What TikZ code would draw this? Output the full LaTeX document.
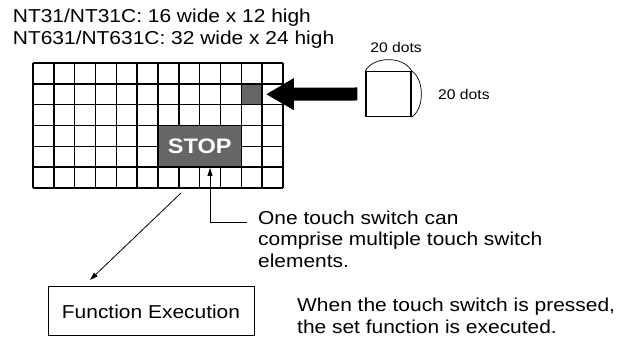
\documentclass[tikz,border=0pt]{standalone}
\usepackage{fontspec}
\setmainfont[FakeStretch=1.12]{Liberation Sans}
\usetikzlibrary{positioning,arrows.meta}
\definecolor{cellgray}{HTML}{666666}

\begin{document}
\begin{tikzpicture}[x=1pt,y=1pt,
 txt/.style={font=\fontsize{18.7}{21.4}\selectfont,inner sep=0pt,align=left},
 dots/.style={font=\fontsize{14}{16}\selectfont,inner sep=0pt},
 cell/.style={fill=cellgray,draw=black,line width=1.5pt,inner sep=0pt},
 ar/.style={-{Triangle[length=8pt,width=5pt]},line width=0.8pt}]
\useasboundingbox (0,0) rectangle (620,339);
\node[txt,anchor=north west] (hdr) at (12.7,330) {NT31/NT31C: 16 wide x 12 high\\NT631/NT631C: 32 wide x 24 high};
% screen of touch switch elements
\foreach \i in {0,...,12} \draw[line width=1.5pt] (33+\i*20.833,151) -- (33+\i*20.833,276);
\foreach \j in {0,...,6} \draw[line width=1.5pt] (33,151+\j*20.833) -- (283,151+\j*20.833);
\node[cell,minimum width=20.833pt,minimum height=20.833pt] (elem) at (251.75,244.75) {};
\node[cell,minimum width=83.33pt,minimum height=41.67pt,text=white,font=\fontsize{21}{24}\selectfont\bfseries] (stop) at (199.67,192.67) {STOP};
% one element, 20 x 20 dots
\node[draw,line width=1.2pt,minimum size=45pt,inner sep=0pt] (sq) at (388.5,245) {};
\draw[line width=0.7pt] (sq.north west) .. controls +(8,15) and +(-8,15) .. (sq.north east);
\draw[line width=0.7pt] (sq.north east) .. controls +(13,-8) and +(13,8) .. (sq.south east);
\node[dots,anchor=base] (wdots) at (396,286) {20 dots};
\node[dots,anchor=base west] (hdots) at (438,239) {20 dots};
\draw[line width=13pt,-{Triangle[length=28pt,width=30pt]}] ([xshift=-8pt]sq.west) -- ([xshift=3pt]elem.east);
% notes
\coordinate (knee) at (210,116.3);
\coordinate (lead) at (246.5,116.3);
\draw[ar] (knee) -- (knee |- stop.south);
\draw[line width=0.8pt] (knee) -- (lead);
\node[txt,anchor=north west] (note) at (258,128.4) {One touch switch can\\comprise multiple touch switch\\elements.};
\node[txt,draw,line width=1pt,minimum width=206pt,minimum height=49pt] (fn) at (151,27.5) {Function Execution};
\coordinate (tap) at (181,146);
\coordinate (tapend) at (90,59);
\draw[ar] (tap) -- (tapend);
\node[txt,anchor=north west] (msg) at (297,40.9) {When the touch switch is pressed,\\the set function is executed.};
\end{tikzpicture}
\end{document}
